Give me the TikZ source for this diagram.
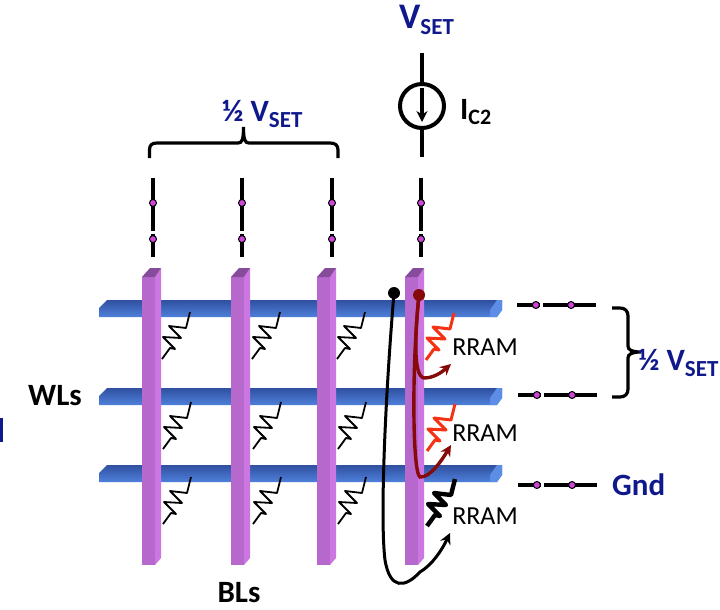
\documentclass[tikz,border=0pt]{standalone}
\usepackage{fontspec}
\setmainfont{Carlito}
\definecolor{navy}{RGB}{15,25,140}
\definecolor{wltop}{RGB}{48,80,160}
\definecolor{wlmid}{RGB}{66,112,202}
\definecolor{wlbot}{RGB}{78,128,218}
\definecolor{wlend}{RGB}{92,142,232}
\definecolor{blfront}{RGB}{182,104,205}
\definecolor{blside}{RGB}{203,118,225}
\definecolor{bltop}{RGB}{135,75,155}
\definecolor{pinfill}{RGB}{205,70,215}
\definecolor{darkred}{RGB}{135,10,10}
\definecolor{hotred}{RGB}{245,50,20}
\usetikzlibrary{arrows.meta}
\tikzset{
  wire/.style={black, line width=3.2pt},
  pin/.style={circle, draw=black, line width=1pt, fill=pinfill, inner sep=0pt, minimum size=7pt},
  zigzag/.style={black, line width=1.8pt, line join=round},
  biglabel/.style={text=navy, font=\fontsize{31}{31}\selectfont\bfseries, inner sep=0pt},
  blacklabel/.style={text=black, font=\fontsize{31}{31}\selectfont\bfseries, inner sep=0pt},
  rramlabel/.style={text=black, font=\fontsize{26}{26}\selectfont, inner sep=0pt},
}
\newcommand{\setsub}{\raisebox{-6pt}{\fontsize{23}{23}\selectfont SET}}
\newcommand{\zigpath}{-- ++(8,-11) -- ++(5,1) -- ++(-12,-12) -- ++(18,1) -- ++(-12,-12) -- ++(17,2) -- ++(4,-16)}
\begin{document}
\begin{tikzpicture}[x=1pt, y=-1pt, >={Stealth[length=11pt,width=11pt]}]
  \useasboundingbox (0,0) rectangle (720,610);

  % word lines
  \foreach \y/\n in {300/1, 388/2, 465/3} {
    \path[top color=wltop, middle color=wlmid, bottom color=wlbot] (99,\y+17) -- (99,\y+8) -- (107,\y) -- (502,\y) -- (502,\y+10) -- (497,\y+17) -- cycle;
    \fill[wlend] (490,\y+17) -- (490,\y+10) -- (497,\y) -- (502,\y) -- (502,\y+10) -- (497,\y+17) -- cycle;
  }

  % bit lines
  \foreach \x in {142, 231, 317, 405} {
    \fill[blfront] (\x,277) rectangle (\x+13,565);
    \fill[blside] (\x+13,277) -- (\x+19,268) -- (\x+19,558) -- (\x+13,565) -- cycle;
    \fill[bltop] (\x,277) -- (\x+8,268) -- (\x+19,268) -- (\x+13,277) -- cycle;
  }

  % cells
  \foreach \x in {162, 252, 337} {
    \draw[zigzag] (\x,359) \zigpath;
    \draw[zigzag] (\x+1,449) \zigpath;
    \draw[zigzag] (\x+1,524) \zigpath;
  }
  \draw[zigzag, hotred, line width=3pt] (426,360) \zigpath;
  \draw[zigzag, hotred, line width=3pt] (427,451) \zigpath;
  \draw[zigzag, line width=4.4pt] (427,526) \zigpath;

  \node[rramlabel] (rram1) at (485,347) {RRAM};
  \node[rramlabel] (rram2) at (485,433) {RRAM};
  \node[rramlabel] (rram3) at (485,516) {RRAM};

  % bit line terminals
  \foreach \x/\n in {153/1, 242/2, 332/3, 421/4} {
    \coordinate (bltop\n) at (\x,178);
    \coordinate (blmid\n) at (\x,231);
    \coordinate (blgap\n) at (\x,234);
    \coordinate (blend\n) at (\x,257);
    \draw[wire] (bltop\n) -- (blmid\n) node[pin, pos=0.47] (pina\n) {};
    \draw[wire] (blgap\n) -- (blend\n) node[pin, pos=0.22] (pinb\n) {};
  }

  % word line terminals
  \foreach \y/\n/\d in {305/1/0, 395/2/1, 485/3/1} {
    \coordinate (wlleft\n) at (517+\d,\y);
    \coordinate (wlmid\n) at (540+\d,\y);
    \coordinate (wlgap\n) at (543+\d,\y);
    \coordinate (wlend\n) at (596+\d,\y);
    \draw[wire] (wlleft\n) -- (wlmid\n) node[pin, pos=0.82] (pinc\n) {};
    \draw[wire] (wlgap\n) -- (wlend\n) node[pin, pos=0.53] (pind\n) {};
  }

  % current source
  \node[circle, draw=black, line width=4pt, minimum size=44pt, inner sep=0pt] (source) at (422,106) {};
  \node[text=navy, font=\fontsize{36}{36}\selectfont\bfseries, inner sep=0pt, anchor=base west] (vset) at (399,29) {V\setsub};
  \coordinate (srctop) at (422,53);
  \coordinate (srcbot) at (422,157);
  \draw[wire] (srctop) -- (source);
  \draw[wire] (source) -- (srcbot);
  \coordinate (iup) at (422,88);
  \coordinate (idown) at (422,122);
  \draw[->, line width=3.2pt] (iup) -- (idown);
  \node[blacklabel, anchor=base west] (ic) at (460,119) {I\raisebox{-5pt}{\fontsize{22}{22}\selectfont C2}};

  % braces
  \coordinate (tipa) at (243.5,127);
  \draw[line width=3.2pt] (149.5,158) -- (149.5,150) .. controls (149.5,145) and (152,143) .. (157,143) -- (238,143) .. controls (242,143) and (243.5,140) .. (tipa) .. controls (243.5,140) and (245,143) .. (249,143) -- (330,143) .. controls (335,143) and (338,145) .. (338,150) -- (338,158);
  \node[biglabel, anchor=base west] (halfa) at (222,121) {½ V\setsub};

  \coordinate (tipb) at (641,352);
  \draw[line width=3.2pt] (612,308) -- (620,308) .. controls (625,308) and (628,311) .. (628,316) -- (628,346) .. controls (628,350) and (632,352) .. (tipb) .. controls (632,352) and (628,354) .. (628,358) -- (628,389) .. controls (628,394) and (625,397) .. (620,397) -- (612,397);
  \node[biglabel, anchor=base west] (halfb) at (638,370) {½ V\setsub};

  \node[biglabel, anchor=west] (gnd) at (612,485) {Gnd};
  \node[blacklabel, anchor=west] (wls) at (28,396) {WLs};
  \node[blacklabel] (bls) at (239,593) {BLs};
  \fill[navy] (0,418) rectangle (3,442);

  % current paths
  \node[circle, fill=darkred, inner sep=0pt, minimum size=12pt] (reddot) at (419,295) {};
  \node[circle, fill=black, inner sep=0pt, minimum size=12pt] (blackdot) at (394,293) {};
  \coordinate (redone) at (451,364);
  \coordinate (redtwo) at (451,445);
  \coordinate (blackend) at (450,533);
  \draw[->, darkred, line width=3.4pt] (reddot.center) .. controls (415,335) and (413,376) .. (424,378) .. controls (434,378) and (442,372) .. (redone);
  \draw[->, darkred, line width=3.4pt] (reddot.center) .. controls (412,360) and (412,472) .. (420,477) .. controls (430,478) and (442,460) .. (redtwo);
  \draw[->, black, line width=3pt] (blackdot.center) .. controls (385,400) and (380,520) .. (385,560) .. controls (390,590) and (405,588) .. (420,572) .. controls (432,565) and (442,550) .. (blackend);
\end{tikzpicture}
\end{document}
